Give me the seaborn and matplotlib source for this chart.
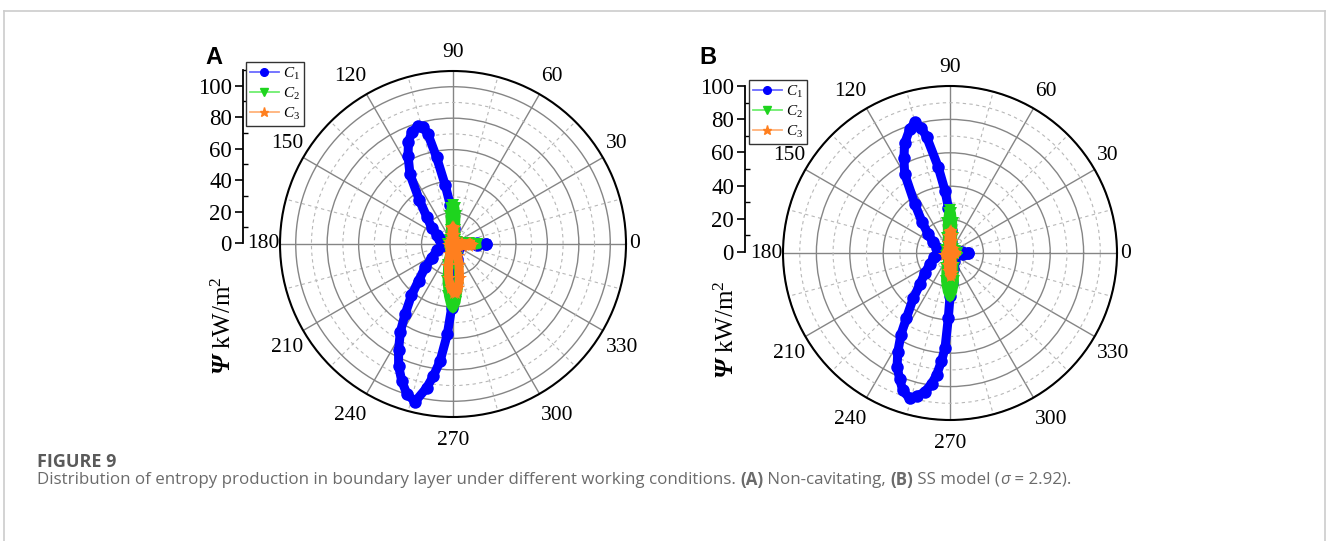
import numpy as np
import pandas as pd
import matplotlib
matplotlib.use("Agg")
import matplotlib.pyplot as plt
import seaborn as sns
from matplotlib.lines import Line2D
from matplotlib.ticker import FixedLocator, NullFormatter

# ---------------- data (angle in degrees, entropy production Psi in kW/m^2) ----------------
A_C1_theta = [0, 2, 5, 10, 20, 35, 50, 65, 78, 86, 90, 94, 97.6, 100.7, 102.9, 104.5, 106.6, 110, 113.5, 117,
              121.7, 127.5, 134, 142.6, 150, 160, 170, 180, 190, 200, 212.7, 220, 226.8, 231, 235.7, 239, 242.9,
              246, 249.5, 253, 256.5, 259.6, 261.5, 263.7, 266.4, 268.8, 271, 275, 285, 300, 320, 340, 352, 355,
              358, 360]
A_C1_r = [21, 15, 5, 3, 2.5, 2, 2, 2.5, 4, 10, 16, 25, 38, 56, 72, 77, 78, 76, 71, 63,
          52, 35, 24, 17, 12, 8.5, 6, 4, 7.3, 10.5, 16, 23, 32, 42, 54, 65, 76,
          85, 93, 100, 103, 93, 85, 75, 57.5, 40.5, 30, 20, 10, 5, 3, 4, 5, 5,
          15, 21]

A_C2_theta = [0, 3, 6, 12, 30, 60, 75, 80, 84, 87, 90, 93, 96, 100, 105, 130, 180, 230, 250, 256, 261, 265,
              268, 270, 273, 277, 281, 286, 292, 320, 345, 352, 356, 360]
A_C2_r = [15, 10, 4, 3, 3, 3, 4, 9, 18, 23, 24.5, 23, 18, 9, 4, 3, 3, 3, 6, 14, 24, 33,
          39, 41, 37, 28, 18, 9, 5, 3, 3, 5, 11, 15]

A_C3_theta = [0, 4, 8, 12, 30, 60, 78, 83, 87, 90, 93, 97, 102, 150, 200, 245, 252, 258, 263, 267, 271,
              274, 277, 281, 286, 292, 299, 320, 345, 350, 354, 357, 360]
A_C3_r = [11, 6, 3, 2.5, 2.5, 2.5, 3, 6, 10, 10.5, 10, 6, 3, 2.5, 2.5, 3, 7, 14, 22, 28, 31,
          31, 28, 22, 14, 8, 4, 3, 4, 5, 10, 12, 11]

B_C1_theta = [0, 3, 6, 15, 45, 70, 82, 88, 92, 94.6, 97.8, 101.4, 103, 105, 108, 112.5, 116, 119.8, 125.7,
              132, 139.3, 148, 158, 170, 180, 186, 195, 209.5, 218, 226.2, 231, 236.2, 239, 242.2, 245, 248.1,
              251, 254.5, 257, 259.7, 262, 263.7, 265.5, 267, 268.5, 270, 273, 280, 295, 320, 345, 354, 357, 360]
B_C1_r = [11, 7, 3.5, 2.5, 2, 3, 6, 14, 27, 37.5, 52, 71, 77, 81, 78, 71, 63, 54.6, 36,
          25, 17.2, 12, 8.6, 6, 4.5, 7, 10, 13.8, 19, 26, 35, 47, 57, 67, 75, 81,
          87, 90.4, 88, 84.5, 79, 73.5, 65, 57, 39, 26, 18, 10, 5, 3, 3, 4, 8, 11]

B_C2_theta = [0, 20, 60, 75, 80, 85, 88, 90, 92, 95, 100, 105, 150, 210, 250, 255, 261, 266, 270, 274,
              279, 285, 290, 330, 360]
B_C2_r = [4, 3, 3, 4, 9, 18, 24, 25.5, 24, 18, 9, 4, 3, 3, 4, 9, 17, 23, 26.5, 23,
          17, 9, 4, 3, 4]

B_C3_theta = [0, 60, 74, 80, 84, 87, 90, 93, 98, 104, 200, 256, 262, 267, 272, 276, 281, 287, 360]
B_C3_r = [3, 3, 3, 7, 11, 13, 12.5, 10, 6, 3, 3, 3, 7, 11, 14, 12, 7, 3, 3]

theta_ticks = list(range(0, 360, 30))
theta_tick_labels = [str(a) for a in theta_ticks]
radial_tick_labels = ["0", "20", "40", "60", "80", "100"]
series_names = [r"$C_1$", r"$C_2$", r"$C_3$"]

# ---------------- style ----------------
plt.rcParams["font.family"] = ["Liberation Serif", "DejaVu Serif"]
plt.rcParams["mathtext.fontset"] = "custom"
plt.rcParams["mathtext.rm"] = "Liberation Serif"
plt.rcParams["mathtext.it"] = "Liberation Serif:italic"
plt.rcParams["mathtext.bf"] = "Liberation Serif:bold"
plt.rcParams["mathtext.bfit"] = "Liberation Serif:italic:bold"

C_BLUE, C_GREEN, C_ORANGE = "#0000FF", "#1ED41E", "#FF7F1E"
L_BLUE, L_GREEN, L_ORANGE = "#6A6AFF", "#70EE70", "#FFB27A"

W, H = 1328, 541
fig = plt.figure(figsize=(W / 100, H / 100), dpi=100)
fig.patch.set_facecolor("white")


def fx(px):
    return px / W


def fy(py):
    return 1 - py / H


def polar_panel(cx, cy, rad, rmax, series, minor_r):
    ax = fig.add_axes([fx(cx - rad), fy(cy + rad), 2 * rad / W, 2 * rad / H], projection="polar")
    ax.set_facecolor("none")
    ax.set_axisbelow(True)
    for th, r, color, marker, ms in series:
        df = pd.DataFrame({"theta": np.deg2rad(th), "r": r})
        sns.lineplot(data=df, x="theta", y="r", ax=ax, color=color, marker=marker, markersize=ms,
                     linewidth=6.5, markeredgewidth=0, sort=False, estimator=None, legend=False)
    ax.set_ylim(0, rmax)
    ax.set_xlabel("")
    ax.set_ylabel("")
    ax.set_xticks(np.deg2rad(theta_ticks))
    ax.set_xticklabels([])
    ax.xaxis.set_minor_locator(FixedLocator(np.deg2rad(np.arange(15, 360, 30))))
    ax.set_yticks([20, 40, 60, 80, 100])
    ax.set_yticklabels([])
    ax.yaxis.set_minor_locator(FixedLocator(minor_r))
    ax.yaxis.set_minor_formatter(NullFormatter())
    ax.grid(True, which="major", color="#858585", lw=1.0, ls="-")
    ax.grid(True, which="minor", color="#b8b8b8", lw=0.8, ls=(0, (3, 3)))
    ax.tick_params(axis="y", which="both", length=0)
    ax.tick_params(axis="x", which="major", direction="in", length=7, width=1.3, color="black")
    ax.tick_params(axis="x", which="minor", direction="in", length=4, width=1.0, color="black")
    ax.spines["polar"].set_color("black")
    ax.spines["polar"].set_linewidth(1.5)
    # angular labels, placed just outside the rim (Origin-like spacing)
    for a, lab in zip(theta_ticks, theta_tick_labels):
        c, s = np.cos(np.deg2rad(a)), np.sin(np.deg2rad(a))
        ha = "left" if c > 0.1 else ("right" if c < -0.1 else "center")
        va = "bottom" if s > 0.1 else ("top" if s < -0.1 else "center")
        pad_h = 3 if c > 0 else 0
        pad_v = 9 if s > 0 else 14
        ax.annotate(lab, xy=(np.deg2rad(a), rmax), xytext=(0.72 * pad_h * c, 0.72 * pad_v * s),
                    textcoords="offset points", ha=ha, va=va, fontsize=15.5, annotation_clip=False)
    return ax


def radial_axis(x, y0, pxlen, rmax, minor):
    rax = fig.add_axes([fx(x), fy(y0), 0.0005, pxlen / H])
    rax.set_facecolor("none")
    rax.set_ylim(0, rmax)
    for s in ["top", "right", "bottom"]:
        rax.spines[s].set_visible(False)
    rax.spines["left"].set_color("black")
    rax.spines["left"].set_linewidth(1.3)
    rax.set_xticks([])
    rax.set_yticks([0, 20, 40, 60, 80, 100])
    rax.set_yticklabels(radial_tick_labels)
    rax.yaxis.set_minor_locator(FixedLocator(minor))
    rax.tick_params(axis="y", which="major", left=True, direction="out", length=6, width=1.2,
                    labelsize=16.5, pad=2, colors="black")
    rax.tick_params(axis="y", which="minor", left=True, direction="in", length=3.5, width=1.0,
                    colors="black")
    return rax


# Panel A
polar_panel(453, 244, 173, 110,
            [(A_C1_theta, A_C1_r, C_BLUE, "o", 9),
             (A_C2_theta, A_C2_r, C_GREEN, "v", 9),
             (A_C3_theta, A_C3_r, C_ORANGE, "*", 10)],
            [10, 30, 50, 70, 90])
radial_axis(243, 243, 173, 110, [10, 30, 50, 70, 90, 110])

# Panel B
polar_panel(950, 253, 167, 100,
            [(B_C1_theta, B_C1_r, C_BLUE, "o", 9),
             (B_C2_theta, B_C2_r, C_GREEN, "v", 9),
             (B_C3_theta, B_C3_r, C_ORANGE, "*", 10)],
            [10, 30, 50, 70, 90])
radial_axis(745, 252, 166, 100, [10, 30, 50, 70, 90])

# Legends
for (lx, ly) in [(246, 62), (749, 80)]:
    handles = [Line2D([], [], color=L_BLUE, lw=1.3, marker="o", ms=5.5, mfc=C_BLUE, mec=C_BLUE),
               Line2D([], [], color=L_GREEN, lw=1.3, marker="v", ms=5.5, mfc=C_GREEN, mec=C_GREEN),
               Line2D([], [], color=L_ORANGE, lw=1.3, marker="*", ms=6.5, mfc=C_ORANGE, mec=C_ORANGE)]
    leg = fig.legend(handles, series_names, loc="upper left", bbox_to_anchor=(fx(lx), fy(ly)),
                     bbox_transform=fig.transFigure, frameon=True, fancybox=False, edgecolor="#333333",
                     framealpha=1, fontsize=11, handlelength=1.9, handletextpad=0.3, borderpad=0.25,
                     labelspacing=0.25, borderaxespad=0)
    leg.get_frame().set_linewidth(1.0)

# Axis titles and panel letters
ylab = r"$\mathbfit{\Psi}$ kW/m$^2$"
fig.text(fx(224), fy(326), ylab, rotation=90, ha="center", va="center", fontsize=18)
fig.text(fx(727), fy(330), ylab, rotation=90, ha="center", va="center", fontsize=18)
fig.text(fx(214), fy(57), "A", ha="center", va="center", fontsize=17, fontweight="bold",
         family="Liberation Sans")
fig.text(fx(708), fy(57), "B", ha="center", va="center", fontsize=17, fontweight="bold",
         family="Liberation Sans")

# Frame
for xs, ys in [([4, 4], [10.5, 541]), ([4, 1325], [10.5, 10.5]), ([1325, 1325], [10.5, 541])]:
    fig.add_artist(Line2D([fx(v) for v in xs], [fy(v) for v in ys], transform=fig.transFigure,
                          color="#cccccc", lw=1.2))

# Caption
cap_font = ["Open Sans", "DejaVu Sans"]
fig.text(fx(37), fy(462), "FIGURE 9", ha="left", va="center", fontsize=13, fontweight="bold",
         family=cap_font, color="#5a5a5a")

pieces = [("Distribution of entropy production in boundary layer under different working conditions. ", "normal", "normal"),
          ("(A)", "bold", "normal"),
          (" Non-cavitating, ", "normal", "normal"),
          ("(B)", "bold", "normal"),
          (" SS model (", "normal", "normal"),
          ("\u03c3", "normal", "italic"),
          (" = 2.92).", "normal", "normal")]


def draw_caption(size):
    arts = []
    x = 37
    fig.canvas.draw()
    r = fig.canvas.get_renderer()
    for txt, wt, st in pieces:
        t = fig.text(fx(x), fy(480), txt, ha="left", va="center", fontsize=size, fontweight=wt,
                     fontstyle=st, family=cap_font, color="#6b6b6b")
        bb = t.get_window_extent(renderer=r)
        x += bb.width
        arts.append(t)
    return arts, x - 37


arts, width = draw_caption(11)
for a in arts:
    a.remove()
arts, width = draw_caption(11 * 1031 / width)

fig.savefig("out.png", dpi=100, facecolor="white")
